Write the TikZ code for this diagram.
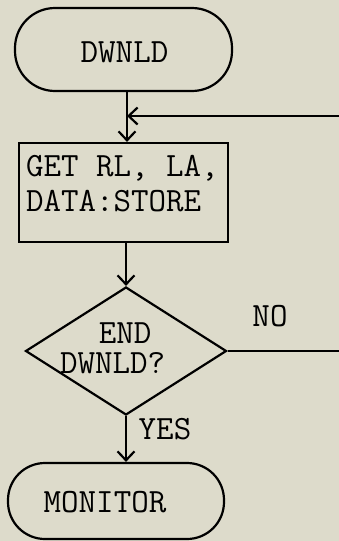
\documentclass[tikz,border=0pt]{standalone}
\usepackage{fontspec}
\usetikzlibrary{arrows.meta,shapes.geometric}
\definecolor{paper}{RGB}{221,219,203}
\begin{document}
\begin{tikzpicture}[x=1pt,y=-1pt,
  line width=2.2pt,
  lbl/.style={inner sep=0pt, anchor=base, font=\ttfamily\fontsize{34}{30}\selectfont},
  term/.style={draw, inner sep=0pt},
  proc/.style={draw, inner sep=0pt},
  decis/.style={draw, diamond, inner sep=0pt},
  arr/.style={-{Straight Barb[length=9pt,width=17pt,line width=2.2pt]}}
]
\fill[paper] (0,0) rectangle (339,541);
\clip (0,0) rectangle (339,541);
% shapes
\node[term, rounded corners=40pt, minimum width=217pt, minimum height=83pt] (dwnld) at (123.5,49.5) {};
\node[proc, minimum width=209pt, minimum height=99pt] (get) at (123.5,192.5) {};
\node[decis, minimum width=201pt, minimum height=128pt] (dec) at (126,351) {};
\node[term, rounded corners=37pt, minimum width=216pt, minimum height=76pt] (mon) at (116,501) {};
% texts
\node[lbl] (tdwnld) at (124.5,62) {DWNLD};
\node[lbl, anchor=base west] (tget1) at (25,176) {GET RL, LA,};
\node[lbl, anchor=base west] (tget2) at (25,211) {DATA:STORE};
\node[lbl, align=left, anchor=north west] (tdec) at (59,321.5) {\hspace*{38.7pt}END\\DWNLD?};
\node[lbl] (tno) at (270,326) {NO};
\node[lbl] (tyes) at (165,439) {YES};
\node[lbl] (tmon) at (105,512) {MONITOR};
% coordinates
\coordinate (j) at (127,116);
\coordinate (loopTop) at (350,116);
% connectors
\draw[arr] (dwnld.south -| j) -- (get.north -| j);
\draw[arr] (get.south -| dec.north) -- (dec.north);
\draw[arr] (dec.east) -| (loopTop) -- (j);
\draw[arr] (dec.south) -- (dec.south |- mon.north);
\end{tikzpicture}
\end{document}
